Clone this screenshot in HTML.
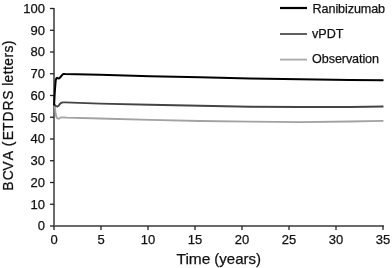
<!DOCTYPE html>
<html><head><meta charset="utf-8">
<style>
html,body{margin:0;padding:0;background:#fff;width:392px;height:268px;overflow:hidden}
svg{display:block;will-change:transform}
text{font-family:"Liberation Sans",sans-serif;fill:#111;stroke:#111;stroke-width:0.25}
</style></head><body>
<svg width="392" height="268" viewBox="0 0 392 268">
<!-- axes -->
<g stroke="#6a6a6a" stroke-width="2" fill="none">
<line x1="54" y1="8" x2="54" y2="227"/>
<line x1="53" y1="226" x2="384" y2="226"/>
</g>
<!-- y ticks -->
<g stroke="#222" stroke-width="1.3">
<line x1="50" y1="8.5" x2="54" y2="8.5"/>
<line x1="50" y1="30.25" x2="54" y2="30.25"/>
<line x1="50" y1="52" x2="54" y2="52"/>
<line x1="50" y1="73.75" x2="54" y2="73.75"/>
<line x1="50" y1="95.5" x2="54" y2="95.5"/>
<line x1="50" y1="117.25" x2="54" y2="117.25"/>
<line x1="50" y1="139" x2="54" y2="139"/>
<line x1="50" y1="160.75" x2="54" y2="160.75"/>
<line x1="50" y1="182.5" x2="54" y2="182.5"/>
<line x1="50" y1="204.25" x2="54" y2="204.25"/>
<line x1="50" y1="226" x2="54" y2="226"/>
</g>
<!-- x ticks -->
<g stroke="#222" stroke-width="1.3">
<line x1="54" y1="226" x2="54" y2="230"/>
<line x1="101" y1="226" x2="101" y2="230"/>
<line x1="148" y1="226" x2="148" y2="230"/>
<line x1="195" y1="226" x2="195" y2="230"/>
<line x1="242" y1="226" x2="242" y2="230"/>
<line x1="289" y1="226" x2="289" y2="230"/>
<line x1="336" y1="226" x2="336" y2="230"/>
<line x1="383" y1="226" x2="383" y2="230"/>
</g>
<!-- y labels -->
<g font-size="13" text-anchor="end">
<text x="45" y="12.9">100</text>
<text x="45" y="34.65">90</text>
<text x="45" y="56.4">80</text>
<text x="45" y="78.15">70</text>
<text x="45" y="99.9">60</text>
<text x="45" y="121.65">50</text>
<text x="45" y="143.4">40</text>
<text x="45" y="165.15">30</text>
<text x="45" y="186.9">20</text>
<text x="45" y="208.65">10</text>
<text x="45" y="230.4">0</text>
</g>
<!-- x labels -->
<g font-size="13" text-anchor="middle">
<text x="54" y="244">0</text>
<text x="101" y="244">5</text>
<text x="148" y="244">10</text>
<text x="195" y="244">15</text>
<text x="242" y="244">20</text>
<text x="289" y="244">25</text>
<text x="336" y="244">30</text>
<text x="383" y="244">35</text>
</g>
<!-- axis titles -->
<text x="176.5" y="264.2" font-size="15.5">Time</text><text x="214.3" y="264.2" font-size="15">(years)</text>
<g transform="translate(12.8,0) rotate(-90)" font-size="13.9"><text x="-190.7 -180.3 -170.7 -160.2 -150.9 -146.3 -140.3 -131.1 -121.6 -110.6 -99.7 -90.4 -85.8 -82.56 -74.21 -70.04 -65.87 -57.52 -52.52 -45.2" y="0">BCVA (ETDRS letters)</text></g>
<!-- curves -->
<g fill="none" stroke-linejoin="round" stroke-linecap="butt">
<polyline stroke="#a2a2a2" stroke-width="1.8" points="54.5,105 55.1,109 55.6,113.5 56.2,116.5 57,118.1 58,118.7 59,118.7 60,118.1 61,117.4 62.5,117.3 67,117.6 100,118.5 150,119.8 200,121.0 250,121.7 300,122.1 350,121.5 383.5,120.9"/>
<polyline stroke="#444" stroke-width="1.9" points="54.5,104.8 55.5,105.7 56.5,106.4 57.5,106.5 58.5,105.8 59.5,104.5 60.5,103.4 61.5,102.7 63,102.4 65,102.4 100,103.6 150,104.7 200,105.8 250,106.7 300,107.0 350,107.0 383.5,106.5"/>
<polyline stroke="#000" stroke-width="2" points="54.1,105.5 54.5,97 55,89 55.7,80.5 56.4,78.2 57.2,77.8 58.3,78.5 59.3,78.3 60.5,77 62,75.2 63.3,73.9 65,74.0 100,74.7 150,76.2 200,77.3 250,78.6 300,79.2 350,79.9 383.5,80.3"/>
</g>
<!-- legend -->
<g fill="none">
<line x1="280" y1="8" x2="307" y2="8" stroke="#000" stroke-width="2.2"/>
<line x1="280" y1="34" x2="307" y2="34" stroke="#4e4e4e" stroke-width="1.8"/>
<line x1="280" y1="59.6" x2="307" y2="59.6" stroke="#a8a8a8" stroke-width="1.8"/>
</g>
<g font-size="12.6">
<text x="312.6" y="12.7" letter-spacing="-0.1">Ranibizumab</text>
<text x="312" y="37.8">vPDT</text>
<text x="312.1" y="63.2" letter-spacing="-0.1">Observation</text>
</g>
</svg>
</body></html>
